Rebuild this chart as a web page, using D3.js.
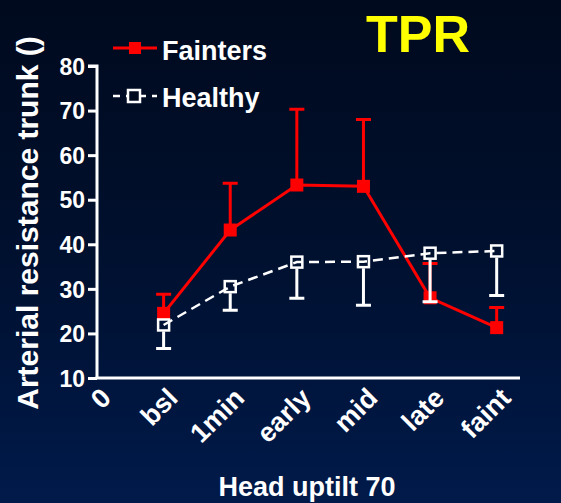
<!DOCTYPE html>
<html>
<head>
<meta charset="utf-8">
<script src="https://cdn.jsdelivr.net/npm/d3@7"></script>
<style>
  html, body { margin: 0; padding: 0; background: #000a1e; }
  svg text { font-family: Arial, "Liberation Sans", Helvetica, sans-serif; font-weight: bold; }
</style>
</head>
<body>
<svg id="chart" width="561" height="503"></svg>
<script>
// chart data
let categories = ['bsl', '1min', 'early', 'mid', 'late', 'faint'];
let xTickLabels = ['0'].concat(categories);
let yTicks = [10, 20, 30, 40, 50, 60, 70, 80];
let faintersMean = [24.5, 43.2, 53.3, 53.0, 28.0, 21.3];
let faintersErr = [4.3, 10.5, 17.0, 15.0, 7.7, 4.5];     // drawn upward
let healthyMean = [21.9, 30.5, 36.0, 36.1, 38.0, 38.5];
let healthyErr = [5.3, 5.3, 8.1, 9.8, 10.9, 10.0];      // drawn downward

function drawChart(){
    let svg = d3.select('#chart');
    let width = 561;
    let height = 503;

    // background gradient
    let defs = svg.append('defs');
    let grad = defs.append('linearGradient')
        .attr('id', 'bgGrad')
        .attr('x1', 0).attr('y1', 0).attr('x2', 0).attr('y2', 1);
    grad.append('stop').attr('offset', '0%').attr('stop-color', '#000a1e');
    grad.append('stop').attr('offset', '45%').attr('stop-color', '#000f2c');
    grad.append('stop').attr('offset', '100%').attr('stop-color', '#001a4a');
    svg.append('rect')
        .attr('width', width)
        .attr('height', height)
        .attr('fill', 'url(#bgGrad)');

    // plot box
    let left = 97, right = 520, top = 66, bottom = 378;

    let xScale = d3.scaleLinear().domain([0, 6.35]).range([left, right]);
    let yScale = d3.scaleLinear().domain([10, 80]).range([bottom, top]);

    // y axis
    let yAxis = d3.axisLeft(yScale)
        .tickValues(yTicks)
        .tickSize(9)
        .tickPadding(3)
        .tickFormat(d3.format('d'));
    let yG = svg.append('g')
        .attr('transform', 'translate(' + left + ',0)')
        .call(yAxis);
    yG.select('.domain').attr('stroke', 'white').attr('stroke-width', 3)
        .attr('d', 'M-9,' + top + 'H0V' + bottom);
    yG.selectAll('.tick line').attr('stroke', 'white').attr('stroke-width', 3);
    yG.selectAll('.tick text')
        .attr('fill', 'white')
        .style('font-size', '23px')
        .attr('dy', '0.36em');

    // x axis line (no ticks)
    svg.append('line')
        .attr('x1', left - 1.5).attr('x2', right)
        .attr('y1', bottom).attr('y2', bottom)
        .attr('stroke', 'white').attr('stroke-width', 3);

    // x tick labels, rotated
    svg.append('g').selectAll('text')
        .data(xTickLabels)
        .enter()
        .append('text')
        .attr('transform', function(d, i){
            return 'translate(' + (xScale(i) + 9) + ',' + (bottom + 15) + ') rotate(-45)';
        })
        .attr('text-anchor', 'end')
        .attr('dy', '0.35em')
        .attr('fill', 'white')
        .style('font-size', '27px')
        .text(function(d){ return d; });

    // axis titles
    svg.append('text')
        .attr('transform', 'translate(38,223) rotate(-90)')
        .attr('text-anchor', 'middle')
        .attr('fill', 'white')
        .style('font-size', '30px')
        .text('Arterial resistance trunk ()');

    svg.append('text')
        .attr('x', 307)
        .attr('y', 496)
        .attr('text-anchor', 'middle')
        .attr('fill', 'white')
        .style('font-size', '27px')
        .text('Head uptilt 70');

    // title
    svg.append('text')
        .attr('x', 418)
        .attr('y', 52)
        .attr('text-anchor', 'middle')
        .attr('fill', '#ffff00')
        .style('font-size', '52px')
        .text('TPR');

    let capW = 7.5;
    let mk = 13;

    // fainters (red) - error bars upward
    let redGrp = svg.append('g');
    redGrp.selectAll('.errRed')
        .data(faintersMean)
        .enter()
        .append('path')
        .attr('d', function(d, i){
            let x = xScale(i + 1);
            let y0 = yScale(d);
            let y1 = yScale(d + faintersErr[i]);
            return 'M' + x + ',' + y0 + 'V' + y1 + 'M' + (x - capW) + ',' + y1 + 'H' + (x + capW);
        })
        .attr('stroke', '#ff0000')
        .attr('stroke-width', 3)
        .attr('fill', 'none');

    let line = d3.line()
        .x(function(d, i){ return xScale(i + 1); })
        .y(function(d){ return yScale(d); });

    redGrp.append('path')
        .datum(faintersMean)
        .attr('d', line)
        .attr('stroke', '#ff0000')
        .attr('stroke-width', 3)
        .attr('fill', 'none');

    redGrp.selectAll('rect')
        .data(faintersMean)
        .enter()
        .append('rect')
        .attr('x', function(d, i){ return xScale(i + 1) - mk / 2; })
        .attr('y', function(d){ return yScale(d) - mk / 2; })
        .attr('width', mk)
        .attr('height', mk)
        .attr('fill', '#ff0000');

    // healthy (white) - error bars downward
    let whiteGrp = svg.append('g');
    whiteGrp.selectAll('.errWhite')
        .data(healthyMean)
        .enter()
        .append('path')
        .attr('d', function(d, i){
            let x = xScale(i + 1);
            let y0 = yScale(d) + mk / 2;
            let y1 = yScale(d - healthyErr[i]);
            return 'M' + x + ',' + y0 + 'V' + y1 + 'M' + (x - capW) + ',' + y1 + 'H' + (x + capW);
        })
        .attr('stroke', 'white')
        .attr('stroke-width', 3)
        .attr('fill', 'none');

    whiteGrp.append('path')
        .datum(healthyMean)
        .attr('d', line)
        .attr('stroke', 'white')
        .attr('stroke-width', 2.5)
        .attr('stroke-dasharray', '10,6')
        .attr('fill', 'none');

    whiteGrp.selectAll('rect')
        .data(healthyMean)
        .enter()
        .append('rect')
        .attr('x', function(d, i){ return xScale(i + 1) - (mk - 2) / 2; })
        .attr('y', function(d){ return yScale(d) - (mk - 2) / 2; })
        .attr('width', mk - 2)
        .attr('height', mk - 2)
        .attr('fill', 'none')
        .attr('stroke', 'white')
        .attr('stroke-width', 2.5);

    // legend
    let legend = svg.append('g');
    legend.append('line')
        .attr('x1', 113).attr('x2', 157).attr('y1', 48).attr('y2', 48)
        .attr('stroke', '#ff0000').attr('stroke-width', 3);
    legend.append('rect')
        .attr('x', 129).attr('y', 42).attr('width', 12).attr('height', 12)
        .attr('fill', '#ff0000');
    legend.append('text')
        .attr('x', 162).attr('y', 60)
        .attr('fill', 'white')
        .style('font-size', '27px')
        .text('Fainters');

    legend.append('line')
        .attr('x1', 113).attr('x2', 157).attr('y1', 96).attr('y2', 96)
        .attr('stroke', 'white').attr('stroke-width', 2.5)
        .attr('stroke-dasharray', '7,6');
    legend.append('rect')
        .attr('x', 128).attr('y', 90).attr('width', 12).attr('height', 12)
        .attr('fill', '#000a1e')
        .attr('stroke', 'white').attr('stroke-width', 2.5);
    legend.append('text')
        .attr('x', 162).attr('y', 107)
        .attr('fill', 'white')
        .style('font-size', '27px')
        .text('Healthy');
}

drawChart();
</script>
</body>
</html>
